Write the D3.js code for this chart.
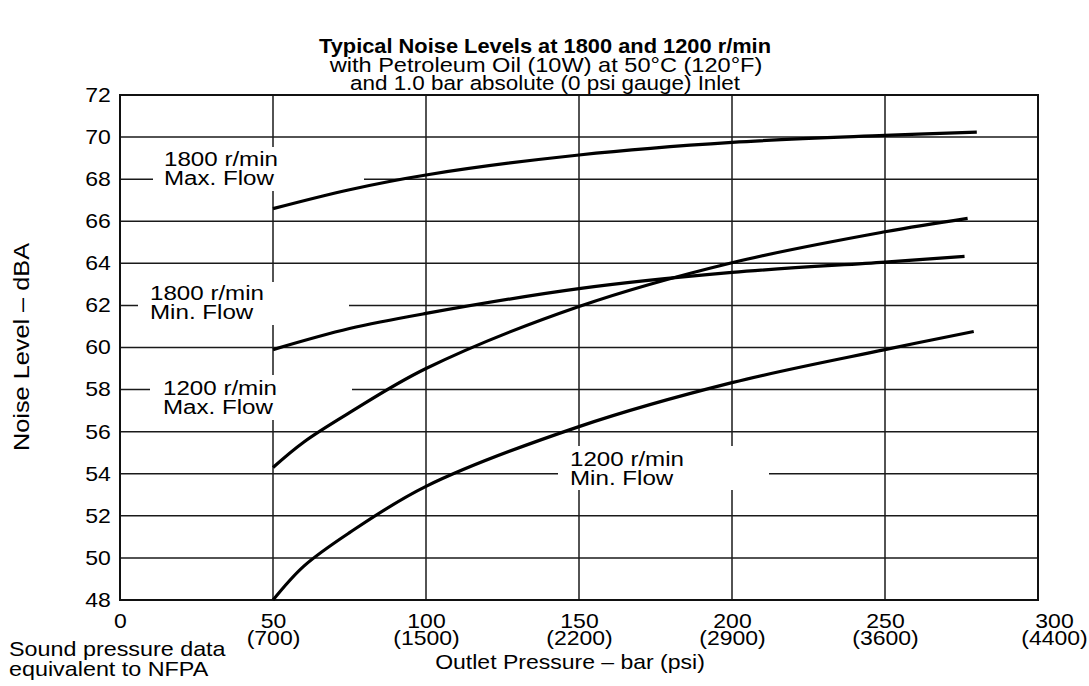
<!DOCTYPE html>
<html>
<head>
<meta charset="utf-8">
<script src="https://cdn.jsdelivr.net/npm/d3@7"></script>
<style>
  html, body { margin: 0; padding: 0; background: #fff; }
  svg { display: block; }
  text { font-family: "Liberation Sans", Arial, Helvetica, sans-serif; fill: #000; }
</style>
</head>
<body>
<svg id="chart" width="1089" height="686"></svg>
<script>
// ---------------- data ----------------
const titleLines = [
  "Typical Noise Levels at 1800 and 1200 r/min",
  "with Petroleum Oil (10W) at 50°C (120°F)",
  "and 1.0 bar absolute (0 psi gauge) Inlet"
];
const xTicksBar = [0, 50, 100, 150, 200, 250, 300];
const xTicksPsi = ["", "(700)", "(1500)", "(2200)", "(2900)", "(3600)", "(4400)"];
const yTicks = [48, 50, 52, 54, 56, 58, 60, 62, 64, 66, 68, 70, 72];

const rpm1800MaxX = [50, 75, 100, 150, 200, 250, 280];
const rpm1800MaxY = [66.6, 67.5, 68.2, 69.15, 69.75, 70.08, 70.24];

const rpm1800MinX = [50, 75, 100, 150, 200, 250, 276];
const rpm1800MinY = [59.9, 60.9, 61.62, 62.8, 63.57, 64.06, 64.33];

const rpm1200MaxX = [50, 60, 75, 100, 150, 200, 250, 277];
const rpm1200MaxY = [54.3, 55.5, 56.9, 59.0, 61.95, 64.03, 65.5, 66.14];

const rpm1200MinX = [50, 60, 75, 100, 150, 200, 250, 279];
const rpm1200MinY = [48.0, 49.6, 51.2, 53.4, 56.24, 58.33, 59.9, 60.76];

const curveLabels = [
  ["1800 r/min", "Max. Flow"],
  ["1800 r/min", "Min. Flow"],
  ["1200 r/min", "Max. Flow"],
  ["1200 r/min", "Min. Flow"]
];
const xTitle = "Outlet Pressure – bar (psi)";
const yTitle = "Noise Level – dBA";
const noteLines = ["Sound pressure data", "equivalent to NFPA"];

// ---------------- layout ----------------
const SX = 1.15; // horizontal stretch of the lettering
const FS = 20;
const svg = d3.select("#chart");
const x = d3.scaleLinear().domain([0, 300]).range([120, 1038]);
const y = d3.scaleLinear().domain([48, 72]).range([600, 95]);

function txt(px, py, str, opts = {}) {
  const g = svg.append("g")
    .attr("transform", `translate(${px},${py}) rotate(${opts.rotate || 0}) scale(${opts.sx || SX},1)`);
  g.append("text")
    .attr("text-anchor", opts.anchor || "start")
    .style("font-size", (opts.size || FS) + "px")
    .style("font-weight", opts.bold ? "bold" : "normal")
    .text(str);
  return g;
}

// title
txt(545, 53, titleLines[0], {anchor: "middle", bold: true, size: 19.5, sx: 1.12});
txt(546, 71.5, titleLines[1], {anchor: "middle", size: 20.5});
txt(545, 89.5, titleLines[2], {anchor: "middle", size: 19.5});

// grid
const grid = svg.append("g").attr("stroke", "#1a1a1a").attr("stroke-width", 1.5);
grid.selectAll("line.v").data(xTicksBar.filter(d => d > 0 && d < 300)).join("line")
  .attr("class", "v")
  .attr("x1", d => x(d)).attr("x2", d => x(d))
  .attr("y1", y(72)).attr("y2", y(48));
grid.selectAll("line.h").data(yTicks.filter(d => d > 48 && d < 72)).join("line")
  .attr("class", "h")
  .attr("x1", x(0)).attr("x2", x(300))
  .attr("y1", d => y(d)).attr("y2", d => y(d));

// white boxes behind curve labels (pixel boxes)
const boxes = [
  {x0: 153, x1: 364, y0: 147, y1: 191, tx: 164, ty: 166},
  {x0: 138, x1: 349, y0: 282, y1: 325, tx: 150, ty: 300},
  {x0: 150, x1: 352, y0: 375, y1: 420, tx: 163, ty: 395},
  {x0: 558, x1: 769, y0: 446, y1: 490, tx: 570, ty: 466}
];
boxes.forEach((b, i) => {
  svg.append("rect").attr("x", b.x0).attr("y", b.y0)
    .attr("width", b.x1 - b.x0).attr("height", b.y1 - b.y0).attr("fill", "#fff");
  txt(b.tx, b.ty, curveLabels[i][0], {size: 21});
  txt(b.tx, b.ty + 19, curveLabels[i][1], {size: 21});
});

// border
svg.append("rect").attr("x", x(0)).attr("y", y(72))
  .attr("width", x(300) - x(0)).attr("height", y(48) - y(72))
  .attr("fill", "none").attr("stroke", "#111").attr("stroke-width", 2);

// curves
const line = d3.line().x(d => x(d[0])).y(d => y(d[1])).curve(d3.curveCatmullRom.alpha(0.5));
const series = [
  d3.zip(rpm1800MaxX, rpm1800MaxY),
  d3.zip(rpm1800MinX, rpm1800MinY),
  d3.zip(rpm1200MaxX, rpm1200MaxY),
  d3.zip(rpm1200MinX, rpm1200MinY)
];
svg.append("g").selectAll("path").data(series).join("path")
  .attr("d", line).attr("fill", "none").attr("stroke", "#000")
  .attr("stroke-width", 3.2).attr("stroke-linecap", "butt");

// y axis
const yAxis = svg.append("g").attr("transform", `translate(${x(0)},0)`)
  .call(d3.axisLeft(y).tickValues(yTicks).tickSize(0).tickPadding(8));
yAxis.select(".domain").remove();
yAxis.selectAll("text").style("font-size", FS + "px")
  .attr("font-family", null)
  .attr("transform", `scale(${SX},1)`);

// x axis
const xAxis = svg.append("g").attr("transform", `translate(0,${y(48)})`)
  .call(d3.axisBottom(x).tickValues(xTicksBar).tickSize(0).tickFormat(""));
xAxis.select(".domain").remove();
xAxis.selectAll(".tick").each(function(d, i) {
  const g = d3.select(this);
  g.select("text").remove();
  const dx = d === 300 ? 16 : 0;
  const t = g.append("text")
    .attr("text-anchor", "middle")
    .attr("transform", `translate(${dx},0) scale(${SX},1)`)
    .style("font-size", FS + "px");
  t.append("tspan").attr("x", 0).attr("y", 28).text(d);
  if (xTicksPsi[i]) t.append("tspan").attr("x", 0).attr("y", 45).text(xTicksPsi[i]);
});

// axis titles and note
txt(570, 669, xTitle, {anchor: "middle"});
txt(29, 347, yTitle, {anchor: "middle", rotate: -90, size: 22});
txt(9, 656, noteLines[0], {anchor: "start", size: 20.3});
txt(9, 676, noteLines[1], {anchor: "start", size: 20.3});
</script>
</body>
</html>
